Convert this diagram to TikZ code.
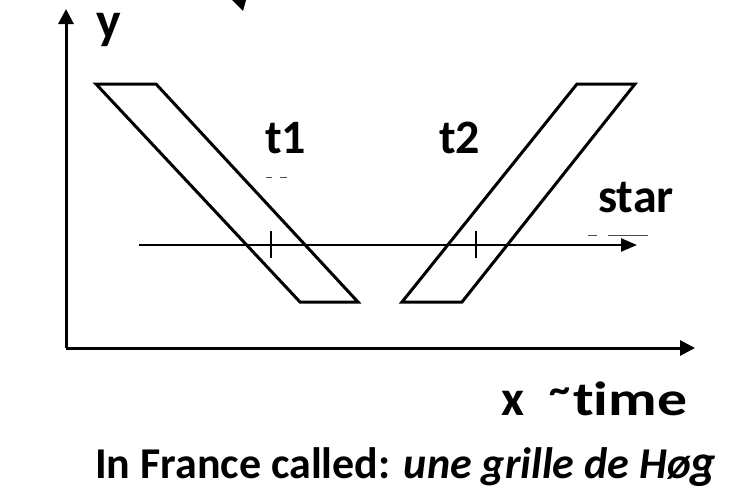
\documentclass[tikz,border=0pt]{standalone}
\usepackage{fontspec}
\usepackage{graphicx}
\setmainfont{Carlito}[Ligatures=NoCommon]
\usetikzlibrary{arrows.meta}
\tikzset{
  thick line/.style={line width=3pt, line join=miter},
  axis/.style={line width=3pt, -{Triangle[length=15pt,width=15pt]}},
  lbl/.style={font=\fontsize{48}{52}\selectfont\bfseries, inner sep=0pt, anchor=base west},
  ghost/.style={line width=0.8pt, draw=black!70},
}
\begin{document}
\begin{tikzpicture}[x=1pt,y=-1pt]
\useasboundingbox (0,0) rectangle (745,498);
% partial arrow head at top edge
\fill (232,0) -- (246,0) -- (243,11) -- cycle;
% axes
\coordinate (O) at (66,348);
\coordinate (Ytop) at (66,9);
\coordinate (Xend) at (695,348);
\draw[axis] (O) -- (Ytop);
\draw[axis] (O) -- (Xend);
% parallelograms
\draw[thick line] (96,84) -- (156,84) -- (358,302) -- (300,302) -- cycle;
\draw[thick line] (577,84) -- (635,84) -- (462,302) -- (402,302) -- cycle;
% star track
\coordinate (S0) at (139,245);
\coordinate (S1) at (637,245);
\draw[line width=2.5pt, -{Triangle[length=16pt,width=13pt]}] (S0) -- (S1);
% ticks
\coordinate (T1) at (271,245);
\coordinate (T2) at (476,245);
\draw[line width=2.5pt] ([yshift=-13pt]T1) -- ([yshift=14pt]T1);
\draw[line width=2.5pt] ([yshift=-13pt]T2) -- ([yshift=14pt]T2);
% labels
\node[lbl, font=\fontsize{52}{56}\selectfont\bfseries] (ly) at (96,38) {y};
\node[lbl] (lt1) at (265,153) {t1};
\node[lbl] (lt2) at (439,153) {t2};
\node[lbl] (lstar) at (598,212) {star};
\node[lbl, font=\fontsize{50}{52}\selectfont\bfseries] (lx) at (501,415) {x};
\node[lbl, font=\fontsize{42}{44}\selectfont\bfseries] (ltilde) at (549,403) {\textasciitilde};
\node[lbl] (ltime) at (573,415) {\resizebox{114pt}{\height}{time}};
\node[lbl, font=\fontsize{44}{48}\selectfont\bfseries] (lb) at (95,478) {In France called: \textit{une grille de Hø\fontsize{48}{50}\selectfont g}};
% faint dashes
\draw[ghost] (266,177) -- (272,177);
\draw[ghost] (280,177) -- (287,177);
\draw[ghost] (588,235) -- (597,235);
\draw[ghost] (608,235) -- (648,235);
\end{tikzpicture}
\end{document}
